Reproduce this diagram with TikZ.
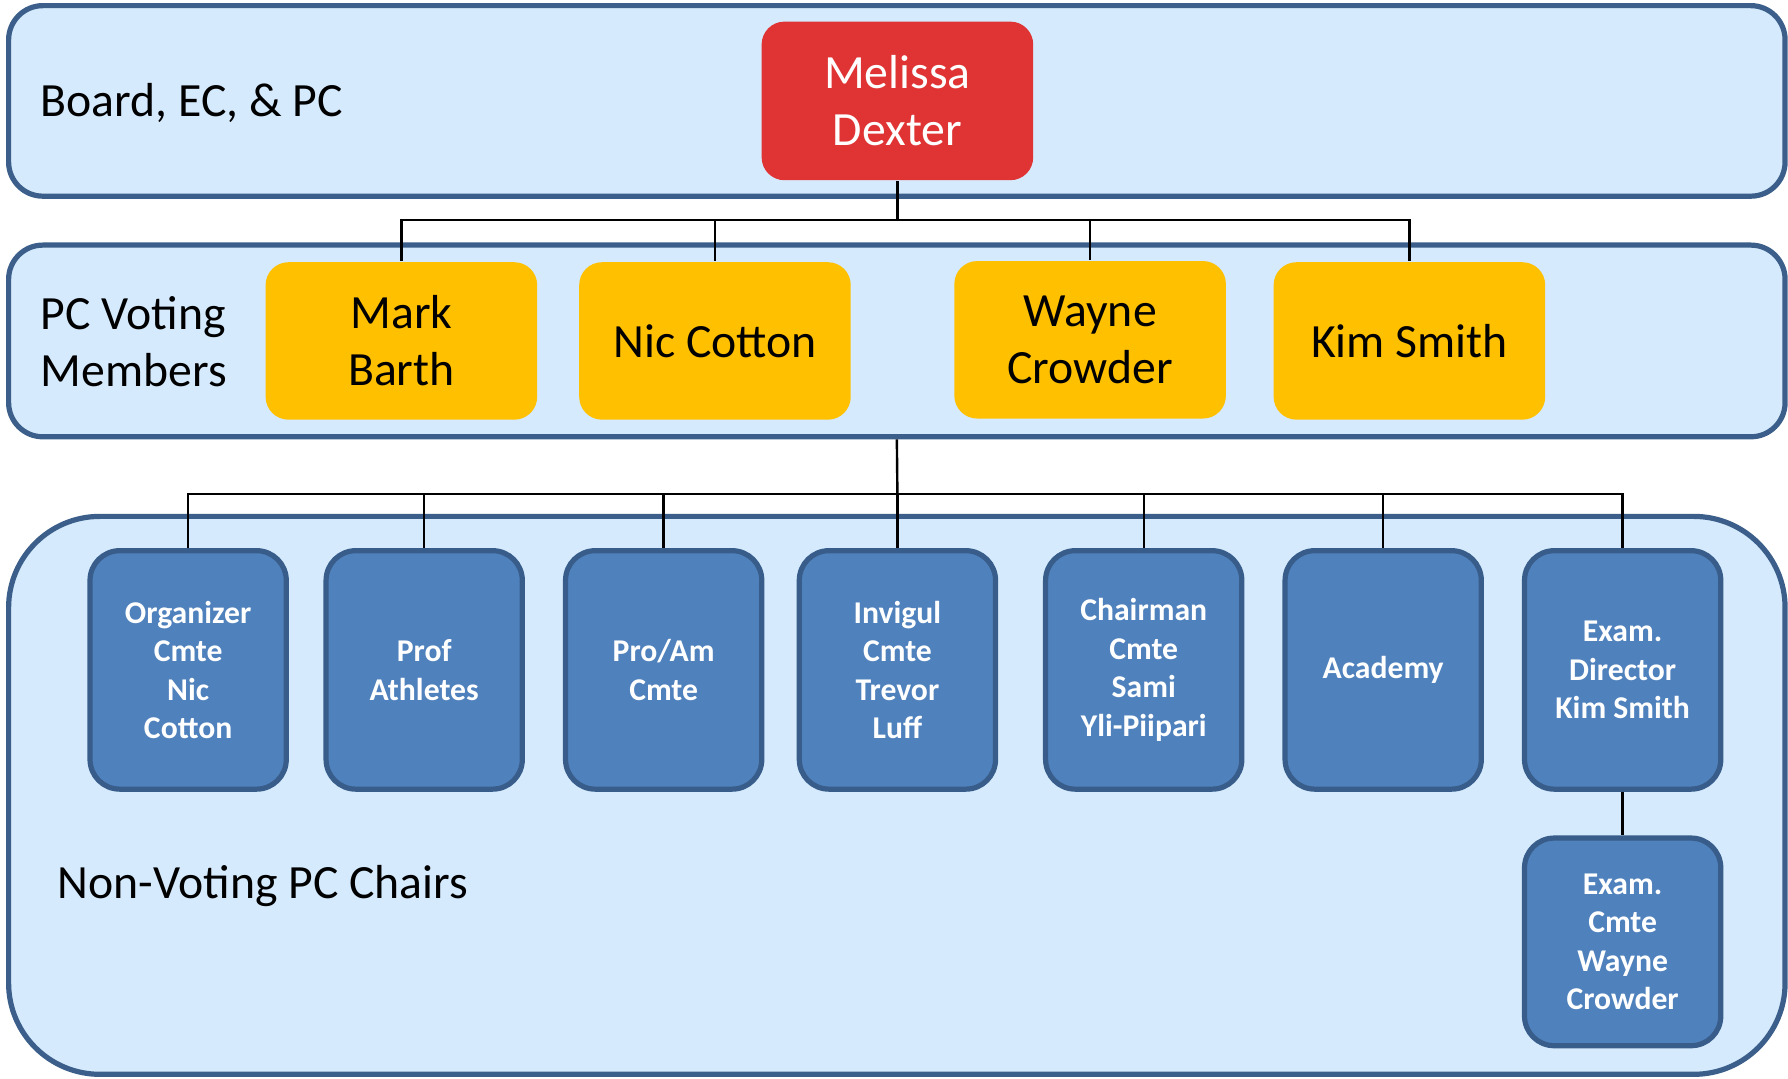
\documentclass[tikz,border=0pt]{standalone}
\usepackage{fontspec}
\setmainfont{Carlito}
\usetikzlibrary{positioning}

\definecolor{bandfill}{RGB}{213,234,252}
\definecolor{banddraw}{RGB}{59,95,138}
\definecolor{redbox}{RGB}{224,51,51}
\definecolor{yellowbox}{RGB}{255,192,0}
\definecolor{bluebox}{RGB}{79,129,189}
\definecolor{bluedraw}{RGB}{56,93,138}

\begin{document}
\begin{tikzpicture}[x=0.01cm, y=-0.01cm,
    band/.style={draw=banddraw, fill=bandfill, line width=1.3pt, rounded corners=0.3cm, minimum width=15.57cm},
    bigtext/.style={font=\fontsize{11.9}{14.2}\selectfont},
    lbl/.style={bigtext, anchor=west, inner sep=0pt, align=left},
    boss/.style={fill=redbox, text=white, rounded corners=0.2cm, minimum width=2.38cm, minimum height=1.39cm, align=center, bigtext},
    member/.style={fill=yellowbox, rounded corners=0.2cm, minimum width=2.38cm, minimum height=1.38cm, align=center, bigtext},
    chair/.style={draw=bluedraw, fill=bluebox, text=white, line width=1.3pt, rounded corners=0.26cm, minimum width=1.72cm, minimum height=2.09cm, align=center, font=\fontsize{7.9}{9.6}\selectfont\bfseries},
    link/.style={line width=0.6pt}]

            \useasboundingbox (0,0) rectangle (1568,945.4);

            % Bands
            \node[band, minimum height=1.67cm] (board) at (786.5,88.5) {};
            \node[band, minimum height=1.68cm] (voting) at (786.5,299) {};
            \node[band, minimum height=4.89cm, rounded corners=0.8cm] (nonvoting) at (786.5,697.5) {};

            \node[lbl] (boardlbl) at (35,90) {Board, EC, \& PC};
            \node[lbl] (votinglbl) at (35,300) {PC Voting\\Members};
            \node[lbl] (nonvotinglbl) at (50,777) {Non-Voting PC Chairs};

            % Top
            \node[boss] (mel) at (787,88.5) {Melissa\\Dexter};

            % Voting members
            \node[member] (mark) at (352,299) {Mark\\Barth};
            \node[member] (nic) at (627,299) {Nic Cotton};
            \node[member] (wayne) at (956,298) {Wayne\\Crowder};
            \node[member] (kim) at (1236,299) {Kim Smith};

            % Chairs
            \node[chair] (org) at (165,587.5) {Organizer\\Cmte\\Nic\\Cotton};
            \node[chair] (prof) at (372,587.5) {Prof\\Athletes};
            \node[chair] (proam) at (582,587.5) {Pro/Am\\Cmte};
            \node[chair] (invig) at (787,587.5) {Invigul\\Cmte\\Trevor\\Luff};
            \node[chair] (chairman) at (1003,587.5) {Chairman\\Cmte\\Sami\\Yli-Piipari};
            \node[chair] (academy) at (1213,587.5) {Academy};
            \node[chair] (examdir) at (1423,587.5) {Exam.\\Director\\Kim Smith};
            \node[chair, minimum height=1.82cm] (examcmte) at (1423,826) {Exam.\\Cmte\\Wayne\\Crowder};

            \coordinate (busA) at (787,193);
            \coordinate (busB) at (787,433);

            % Connections: top to voting members
            \draw[link] (mel.south) -- (busA);
            \foreach \n in {mark,nic,wayne,kim}
                \draw[link] (busA) -| (\n.north);

            % Connections: voting members to chairs
            \draw[link] (voting.south) -- (busB);
            \foreach \n in {org,prof,proam,invig,chairman,academy,examdir}
                \draw[link] (busB) -| (\n.north);
            \draw[link] (examdir.south) -- (examcmte.north);

        \end{tikzpicture}
\end{document}
